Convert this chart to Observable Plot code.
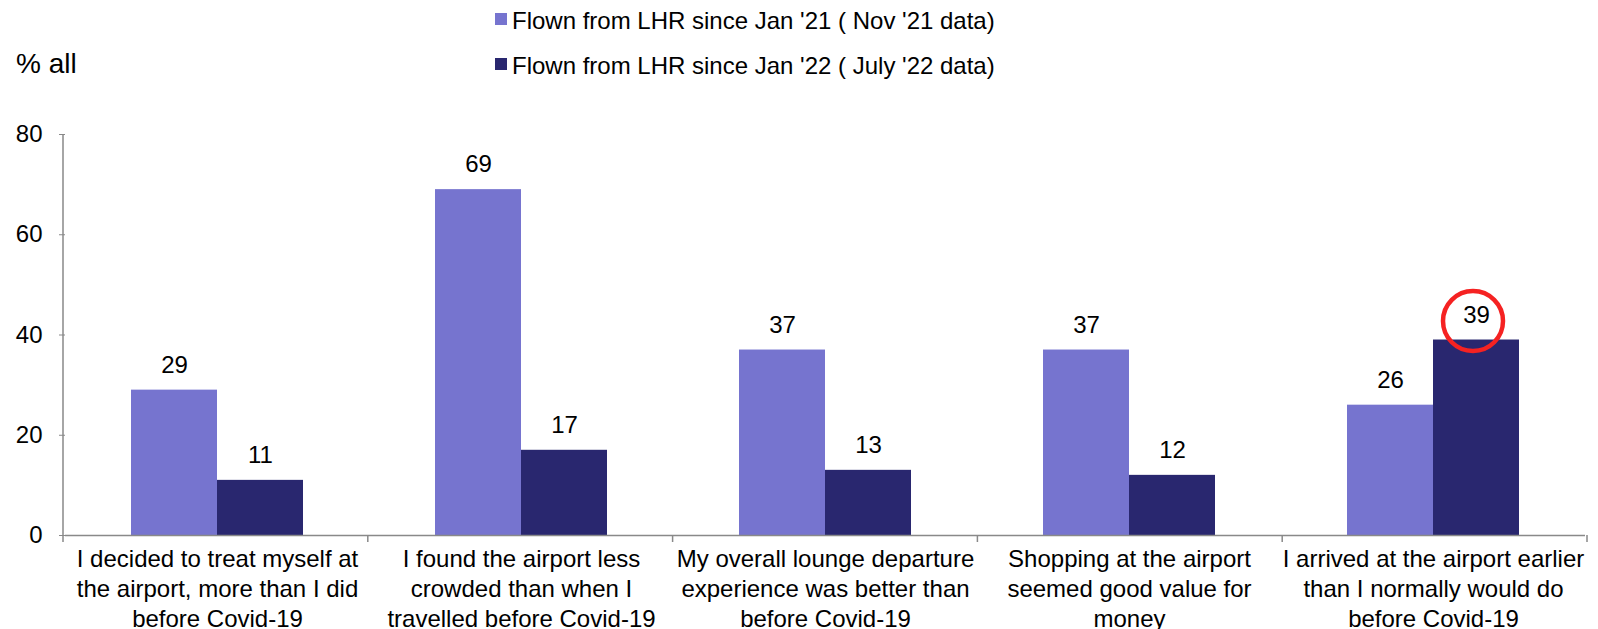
<!DOCTYPE html>
<html>
<head>
<meta charset="utf-8">
<script src="https://cdn.jsdelivr.net/npm/d3@7"></script>
<script src="https://cdn.jsdelivr.net/npm/@observablehq/plot@0.6"></script>
<style>
  html, body { margin: 0; padding: 0; background: #fff; }
  body { font-family: "Liberation Sans", Arial, sans-serif; color: #000; }
  #wrap { position: relative; width: 1598px; height: 629px; overflow: hidden; }
  #header { position: relative; height: 100px; }
  #ylabel { position: absolute; left: 16px; top: 50px; font-size: 28px; line-height: 1; }
  .sw { position: absolute; width: 12px; height: 12px; }
  .lt { position: absolute; font-size: 24px; line-height: 1; white-space: nowrap; }
  #chart svg { display: block; }
</style>
</head>
<body>
<div id="wrap">
  <div id="header"><div id="ylabel">% all</div></div>
  <div id="chart"></div>
</div>
<script>
const categories = [
  "I decided to treat myself at\nthe airport, more than I did\nbefore Covid-19",
  "I found the airport less\ncrowded than when I\ntravelled before Covid-19",
  "My overall lounge departure\nexperience was better than\nbefore Covid-19",
  "Shopping at the airport\nseemed good value for\nmoney",
  "I arrived at the airport earlier\nthan I normally would do\nbefore Covid-19"
];
const series = [
  "Flown from LHR since Jan '21 ( Nov '21 data)",
  "Flown from LHR since Jan '22 ( July '22 data)"
];
const nov21 = [29, 69, 37, 37, 26];
const jul22 = [11, 17, 13, 12, 39];
const colors = ["#7674cf", "#29276f"];
const yTicks = [0, 20, 40, 60, 80];
const highlightCategory = [categories[4]];
const highlightSeries = [series[1]];

const data = categories.flatMap((c, i) => [
  {category: c, series: series[0], value: nov21[i]},
  {category: c, series: series[1], value: jul22[i]}
]);
const highlight = data.filter(d => highlightCategory.includes(d.category) && highlightSeries.includes(d.series));

// legend
const header = document.getElementById("header");
series.forEach((s, i) => {
  const sw = document.createElement("div");
  sw.className = "sw";
  sw.style.left = "495px";
  sw.style.top = (13 + i * 45) + "px";
  sw.style.background = colors[i];
  header.appendChild(sw);
  const t = document.createElement("div");
  t.className = "lt";
  t.style.left = "512px";
  t.style.top = (9 + i * 45) + "px";
  t.textContent = s;
  header.appendChild(t);
});

const axisColor = "#898989";
const plot = Plot.plot({
  width: 1598,
  height: 529,
  marginLeft: 63,
  marginRight: 11,
  marginTop: 34,
  marginBottom: 94,
  style: {fontFamily: "'Liberation Sans', Arial, sans-serif", fontSize: "24px", background: "#fff", color: "#000", overflow: "visible"},
  fx: {domain: categories, padding: 0, label: null},
  x: {domain: series, paddingInner: 0, paddingOuter: 0.75, axis: null},
  y: {domain: [0, 80], label: null},
  color: {domain: series, range: colors},
  marks: [
    Plot.barY(data, {fx: "category", x: "series", y: "value", fill: "series"}),
    Plot.ruleY([0], {stroke: axisColor, strokeWidth: 1.5}),
    Plot.text(data, {fx: "category", x: "series", y: "value", text: d => String(d.value), dy: -25, fontSize: 24, fill: "#000"}),
    Plot.dot(highlight, {fx: "category", x: "series", y: "value", r: 30, dx: -3.5, dy: -19, stroke: "#f52222", strokeWidth: 4.5, fill: "none"}),
    Plot.axisY({ticks: yTicks, tickSize: 6, tickPadding: 17, stroke: axisColor, fill: "#000", fontSize: 24, label: null}),
    Plot.axisFx({anchor: "bottom", tickSize: 0, tickPadding: 10, lineHeight: 1.25, fontSize: 24, fill: "#000", label: null})
  ]
});
document.getElementById("chart").appendChild(plot);

// axis line on the left and category boundary ticks, placed via the plot's own scales
const fxS = plot.scale("fx");
const yS = plot.scale("y");
const yPos = v => yS.apply ? yS.apply(v) : (yS.range[0] + (v - yS.domain[0]) / (yS.domain[1] - yS.domain[0]) * (yS.range[1] - yS.range[0]));
const band = d3.scaleBand().domain(fxS.domain).range(fxS.range).padding(0);
const svg = d3.select(plot.tagName.toLowerCase() === "svg" ? plot : plot.querySelector("svg"));
const g = svg.append("g").attr("stroke", axisColor).attr("stroke-width", 1.5);
const x0 = band.range()[0];
g.append("line").attr("x1", x0).attr("x2", x0).attr("y1", yPos(80)).attr("y2", yPos(0));
const bounds = fxS.domain.map(c => band(c)).concat([band.range()[1]]);
bounds.forEach(b => {
  g.append("line").attr("x1", b).attr("x2", b).attr("y1", yPos(0)).attr("y2", yPos(0) + 7);
});
</script>
</body>
</html>
